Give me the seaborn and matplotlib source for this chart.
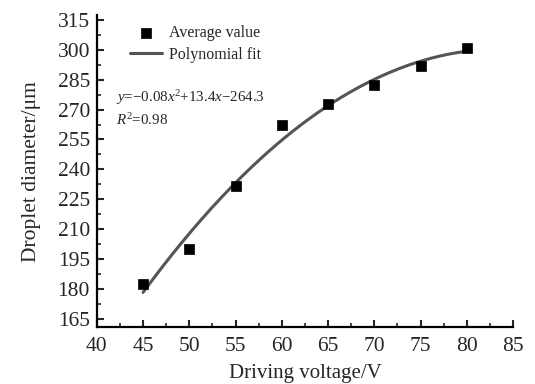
import numpy as np
import pandas as pd
import matplotlib
matplotlib.use("Agg")
import matplotlib.pyplot as plt
from matplotlib.ticker import MultipleLocator
import seaborn as sns

voltage = [45, 50, 55, 60, 65, 70, 75, 80]
diameter = [182.3, 200.2, 231.5, 262.5, 273.0, 282.3, 292.0, 301.0]
x_ticks = [40, 45, 50, 55, 60, 65, 70, 75, 80, 85]
y_ticks = [165, 180, 195, 210, 225, 240, 255, 270, 285, 300, 315]
equation = r"$y$=−0.08$x^2$+13.4$x$−264.3"
r2_text = r"$R^2$=0.98"

sns.set_style("ticks")
plt.rcParams["font.family"] = ["Liberation Serif", "DejaVu Serif"]
plt.rcParams["mathtext.fontset"] = "custom"
plt.rcParams["mathtext.rm"] = "Liberation Serif"
plt.rcParams["mathtext.it"] = "Liberation Serif:italic"

df = pd.DataFrame({"Voltage": voltage, "Diameter": diameter})
coef = np.polyfit(df["Voltage"], df["Diameter"], 2)
xf = np.linspace(min(voltage), max(voltage), 200)
fit = pd.DataFrame({"Voltage": xf, "Diameter": np.polyval(coef, xf)})

fig = plt.figure(figsize=(5.35, 3.84), dpi=100)
ax = fig.add_axes([0.181, 0.148, 0.778, 0.813])

sns.lineplot(data=fit, x="Voltage", y="Diameter", ax=ax, color="#555555",
             linewidth=2.2, label="Polynomial fit", legend=False)
sns.scatterplot(data=df, x="Voltage", y="Diameter", ax=ax, marker="s",
                color="black", s=42, edgecolor="black", linewidth=0.5,
                label="Average value", legend=False, zorder=3)

ax.set_xlim(40, 85)
ax.set_ylim(160.8, 317.5)
ax.set_xticks(x_ticks)
ax.set_yticks(y_ticks)
ax.xaxis.set_minor_locator(MultipleLocator(2.5))
ax.yaxis.set_minor_locator(MultipleLocator(7.5))
ax.tick_params(which="major", direction="in", length=5, width=1.5, labelsize=15.5, pad=5)
ax.tick_params(axis="x", which="major", pad=7)
ax.tick_params(which="minor", direction="in", length=3, width=1.2)
for s in ["top", "right"]:
    ax.spines[s].set_visible(False)
for s in ["left", "bottom"]:
    ax.spines[s].set_linewidth(1.6)
    ax.spines[s].set_color("black")

ax.set_xlabel("Driving voltage/V", fontsize=15, labelpad=6)
ax.set_ylabel("Droplet diameter/μm", fontsize=15.5, labelpad=12)

handles, labels = ax.get_legend_handles_labels()
order = [labels.index("Average value"), labels.index("Polynomial fit")]
ax.legend([handles[i] for i in order], [labels[i] for i in order],
          loc="upper left", bbox_to_anchor=(0.046, 1.014), frameon=False,
          fontsize=11.5, handlelength=2.0, handletextpad=0.45, labelspacing=0.35)

ax.text(0.045, 0.735, equation, transform=ax.transAxes, fontsize=10.8, va="center")
ax.text(0.045, 0.665, r2_text, transform=ax.transAxes, fontsize=10.8, va="center")

fig.savefig("out.png", dpi=100)
